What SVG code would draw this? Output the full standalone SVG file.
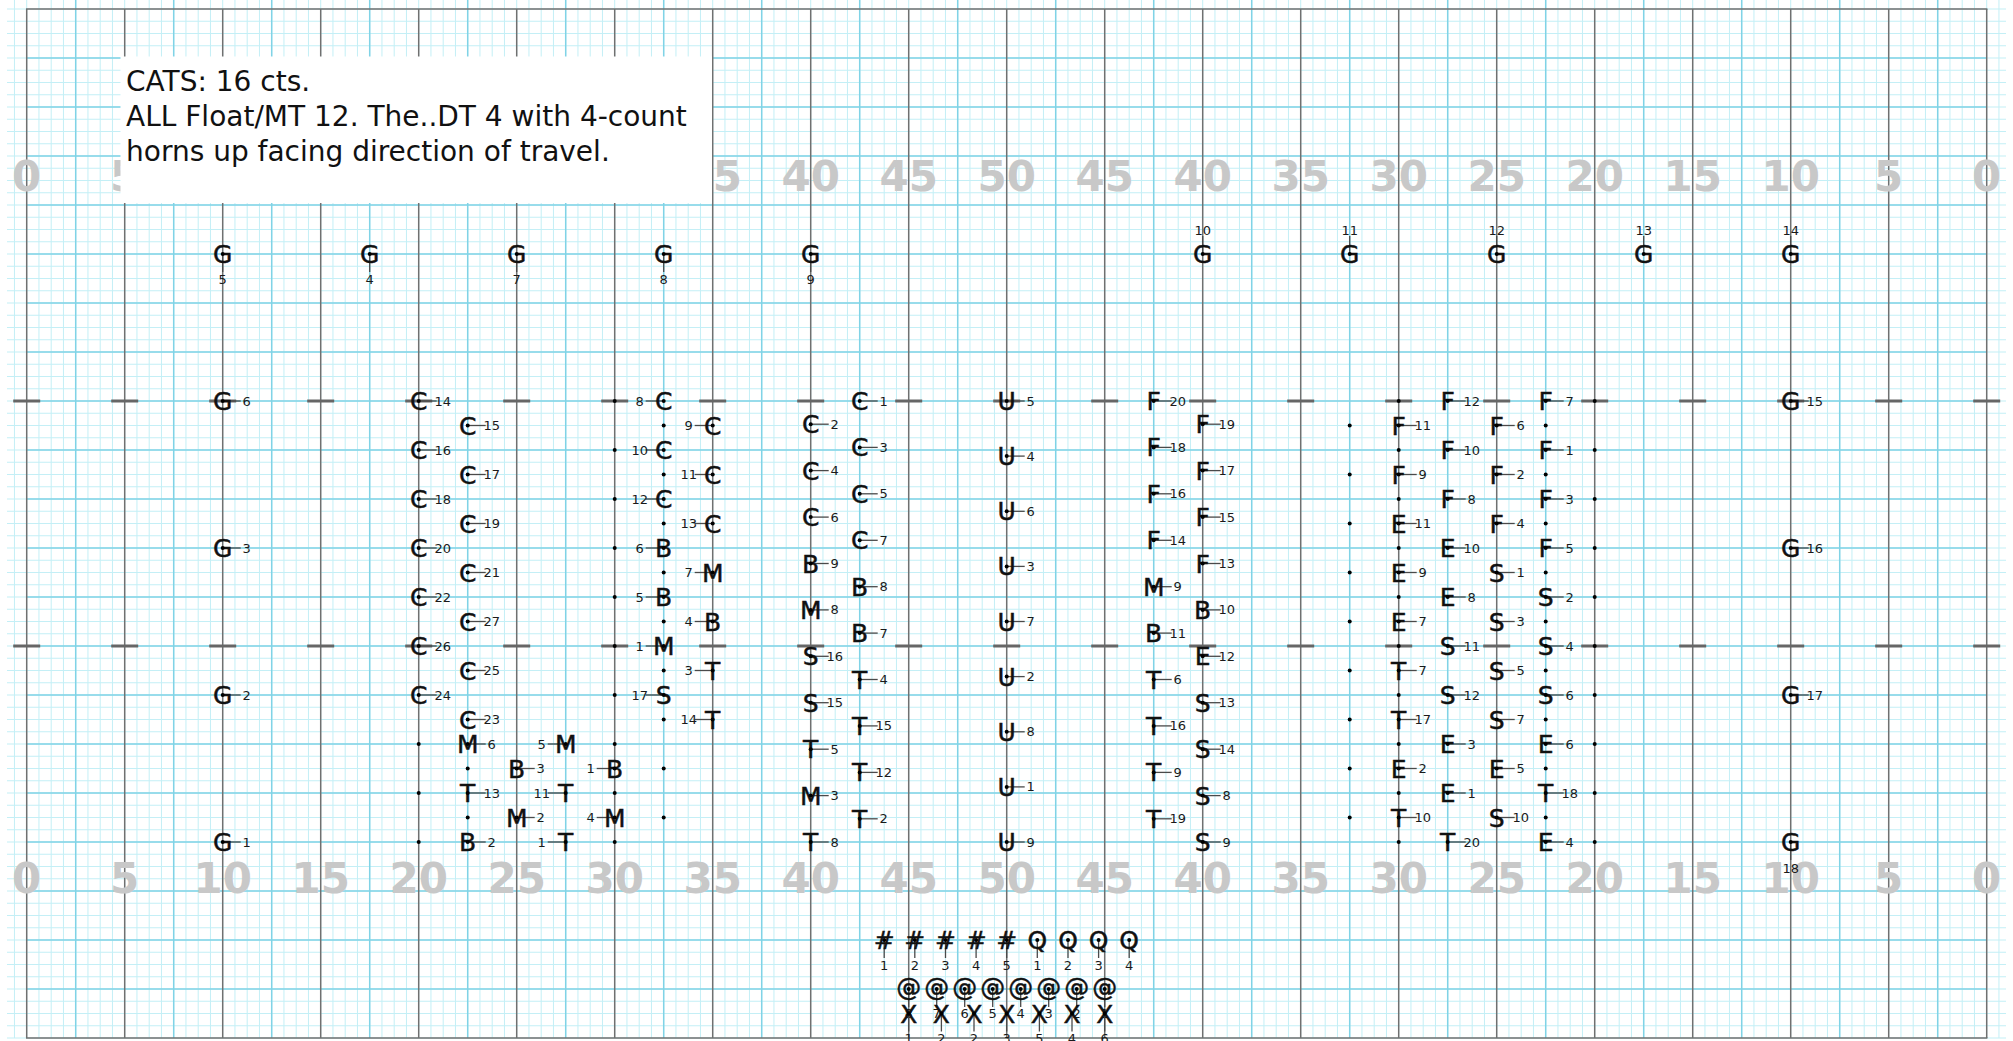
<svg xmlns="http://www.w3.org/2000/svg" xmlns:xlink="http://www.w3.org/1999/xlink" width="2013" height="1041" viewBox="0 0 2013 1041">
<style>
.s{font-family:"DejaVu Sans",sans-serif;font-size:25px;text-anchor:middle;fill:#111;stroke:#111;stroke-width:0.45}
.n{font-family:"DejaVu Sans",sans-serif;font-size:13px;text-anchor:middle;fill:#1a1a1a}
.l{stroke:#4a4a4a;stroke-width:1.3;fill:none}
.yn{font-family:"DejaVu Sans",sans-serif;font-weight:bold;font-size:42px;text-anchor:middle;fill:#c8c8c8}
.tb{font-family:"DejaVu Sans",sans-serif;font-size:28px;fill:#111}
</style>
<defs><circle id="d" r="2" fill="#000"/></defs>
<rect width="2013" height="1041" fill="#fff"/>
<g id="grid" fill="none">
<line x1="13.95" y1="519" x2="2006" y2="519" stroke="#c4eff6" stroke-width="1038" stroke-dasharray="1 11.25"/>
<line x1="1006.5" y1="8.5" x2="1006.5" y2="1039" stroke="#c4eff6" stroke-width="1999" stroke-dasharray="1 11.25"/>
<line x1="74.95" y1="519" x2="1990" y2="519" stroke="#80d3e6" stroke-width="1038" stroke-dasharray="1.5 96.5"/>
<line x1="1006.7" y1="57.25" x2="1006.7" y2="1000" stroke="#80d3e6" stroke-width="1960" stroke-dasharray="1.5 47.5"/>
<line x1="25.95" y1="523.5" x2="1990" y2="523.5" stroke="#707070" stroke-width="1029" stroke-dasharray="1.5 96.5"/>
<path d="M26 9H1987.4M26 1038H1987.4" stroke="#707070" stroke-width="1.5"/>
<line x1="13.2" y1="401" x2="2001" y2="401" stroke="#666" stroke-width="3" stroke-dasharray="27 71"/>
<line x1="13.2" y1="646" x2="2001" y2="646" stroke="#666" stroke-width="3" stroke-dasharray="27 71"/>
</g>
<g id="yard-numbers-top" class="yn">
<text x="26.7" y="190.5">0</text><text x="124.7" y="190.5">5</text><text x="222.7" y="190.5">10</text><text x="320.7" y="190.5">15</text><text x="418.7" y="190.5">20</text><text x="516.7" y="190.5">25</text><text x="614.7" y="190.5">30</text><text x="712.7" y="190.5">35</text><text x="810.7" y="190.5">40</text><text x="908.7" y="190.5">45</text><text x="1006.7" y="190.5">50</text><text x="1104.7" y="190.5">45</text><text x="1202.7" y="190.5">40</text><text x="1300.7" y="190.5">35</text><text x="1398.7" y="190.5">30</text><text x="1496.7" y="190.5">25</text><text x="1594.7" y="190.5">20</text><text x="1692.7" y="190.5">15</text><text x="1790.7" y="190.5">10</text><text x="1888.7" y="190.5">5</text><text x="1986.7" y="190.5">0</text>
</g>
<g id="yard-numbers-bottom" class="yn">
<text x="26.7" y="892.5">0</text><text x="124.7" y="892.5">5</text><text x="222.7" y="892.5">10</text><text x="320.7" y="892.5">15</text><text x="418.7" y="892.5">20</text><text x="516.7" y="892.5">25</text><text x="614.7" y="892.5">30</text><text x="712.7" y="892.5">35</text><text x="810.7" y="892.5">40</text><text x="908.7" y="892.5">45</text><text x="1006.7" y="892.5">50</text><text x="1104.7" y="892.5">45</text><text x="1202.7" y="892.5">40</text><text x="1300.7" y="892.5">35</text><text x="1398.7" y="892.5">30</text><text x="1496.7" y="892.5">25</text><text x="1594.7" y="892.5">20</text><text x="1692.7" y="892.5">15</text><text x="1790.7" y="892.5">10</text><text x="1888.7" y="892.5">5</text><text x="1986.7" y="892.5">0</text>
</g>
<g id="note">
<rect x="120.5" y="56.5" width="591.5" height="146.5" fill="#fff"/>
<text class="tb" x="126" y="91">CATS: 16 cts.</text>
<text class="tb" x="126" y="126">ALL Float/MT 12. The..DT 4 with 4-count</text>
<text class="tb" x="126" y="161">horns up facing direction of travel.</text>
</g>
<g id="markers">
<use href="#d" x="614.7" y="401"/><use href="#d" x="663.7" y="425.5"/><use href="#d" x="614.7" y="450"/><use href="#d" x="663.7" y="474.5"/><use href="#d" x="614.7" y="499"/><use href="#d" x="663.7" y="523.5"/><use href="#d" x="614.7" y="548"/><use href="#d" x="663.7" y="572.5"/><use href="#d" x="614.7" y="597"/><use href="#d" x="663.7" y="621.5"/><use href="#d" x="614.7" y="646"/><use href="#d" x="663.7" y="670.5"/><use href="#d" x="614.7" y="695"/><use href="#d" x="663.7" y="719.5"/>
<use href="#d" x="418.7" y="744"/><use href="#d" x="614.7" y="744"/><use href="#d" x="467.7" y="768.5"/><use href="#d" x="663.7" y="768.5"/><use href="#d" x="418.7" y="793"/><use href="#d" x="614.7" y="793"/><use href="#d" x="467.7" y="817.5"/><use href="#d" x="663.7" y="817.5"/><use href="#d" x="418.7" y="842"/><use href="#d" x="614.7" y="842"/>
<use href="#d" x="1349.7" y="425.5"/><use href="#d" x="1349.7" y="474.5"/><use href="#d" x="1349.7" y="523.5"/><use href="#d" x="1349.7" y="572.5"/><use href="#d" x="1349.7" y="621.5"/><use href="#d" x="1349.7" y="670.5"/><use href="#d" x="1349.7" y="719.5"/><use href="#d" x="1349.7" y="768.5"/><use href="#d" x="1349.7" y="817.5"/>
<use href="#d" x="1398.7" y="401"/><use href="#d" x="1398.7" y="450"/><use href="#d" x="1398.7" y="499"/><use href="#d" x="1398.7" y="548"/><use href="#d" x="1398.7" y="597"/><use href="#d" x="1398.7" y="646"/><use href="#d" x="1398.7" y="695"/><use href="#d" x="1398.7" y="744"/><use href="#d" x="1398.7" y="793"/><use href="#d" x="1398.7" y="842"/>
<use href="#d" x="1545.7" y="425.5"/><use href="#d" x="1545.7" y="474.5"/><use href="#d" x="1545.7" y="523.5"/><use href="#d" x="1545.7" y="572.5"/><use href="#d" x="1545.7" y="621.5"/><use href="#d" x="1545.7" y="670.5"/><use href="#d" x="1545.7" y="719.5"/><use href="#d" x="1545.7" y="768.5"/><use href="#d" x="1545.7" y="817.5"/>
<use href="#d" x="1594.7" y="401"/><use href="#d" x="1594.7" y="450"/><use href="#d" x="1594.7" y="499"/><use href="#d" x="1594.7" y="548"/><use href="#d" x="1594.7" y="597"/><use href="#d" x="1594.7" y="646"/><use href="#d" x="1594.7" y="695"/><use href="#d" x="1594.7" y="744"/><use href="#d" x="1594.7" y="793"/><use href="#d" x="1594.7" y="842"/>
</g>
<g id="nodes">
<g id="G5" transform="translate(222.7 254)"><path class="l" d="M0 0v18"/><text class="n" y="29.5">5</text><text class="s" y="9">G</text><use href="#d"/></g>
<g id="G4" transform="translate(369.7 254)"><path class="l" d="M0 0v18"/><text class="n" y="29.5">4</text><text class="s" y="9">G</text><use href="#d"/></g>
<g id="G7" transform="translate(516.7 254)"><path class="l" d="M0 0v18"/><text class="n" y="29.5">7</text><text class="s" y="9">G</text><use href="#d"/></g>
<g id="G8" transform="translate(663.7 254)"><path class="l" d="M0 0v18"/><text class="n" y="29.5">8</text><text class="s" y="9">G</text><use href="#d"/></g>
<g id="G9" transform="translate(810.7 254)"><path class="l" d="M0 0v18"/><text class="n" y="29.5">9</text><text class="s" y="9">G</text><use href="#d"/></g>
<g id="G10" transform="translate(1202.7 254)"><path class="l" d="M0 0v-18"/><text class="n" y="-19">10</text><text class="s" y="9">G</text><use href="#d"/></g>
<g id="G11" transform="translate(1349.7 254)"><path class="l" d="M0 0v-18"/><text class="n" y="-19">11</text><text class="s" y="9">G</text><use href="#d"/></g>
<g id="G12" transform="translate(1496.7 254)"><path class="l" d="M0 0v-18"/><text class="n" y="-19">12</text><text class="s" y="9">G</text><use href="#d"/></g>
<g id="G13" transform="translate(1643.7 254)"><path class="l" d="M0 0v-18"/><text class="n" y="-19">13</text><text class="s" y="9">G</text><use href="#d"/></g>
<g id="G14" transform="translate(1790.7 254)"><path class="l" d="M0 0v-18"/><text class="n" y="-19">14</text><text class="s" y="9">G</text><use href="#d"/></g>
<g id="G6" transform="translate(222.7 401)"><path class="l" d="M0 0h18"/><text class="n" x="24" y="4.5">6</text><text class="s" y="9">G</text><use href="#d"/></g>
<g id="G3" transform="translate(222.7 548)"><path class="l" d="M0 0h18"/><text class="n" x="24" y="4.5">3</text><text class="s" y="9">G</text><use href="#d"/></g>
<g id="G2" transform="translate(222.7 695)"><path class="l" d="M0 0h18"/><text class="n" x="24" y="4.5">2</text><text class="s" y="9">G</text><use href="#d"/></g>
<g id="G1" transform="translate(222.7 842)"><path class="l" d="M0 0h18"/><text class="n" x="24" y="4.5">1</text><text class="s" y="9">G</text><use href="#d"/></g>
<g id="G15" transform="translate(1790.7 401)"><path class="l" d="M0 0h18"/><text class="n" x="24" y="4.5">15</text><text class="s" y="9">G</text><use href="#d"/></g>
<g id="G16" transform="translate(1790.7 548)"><path class="l" d="M0 0h18"/><text class="n" x="24" y="4.5">16</text><text class="s" y="9">G</text><use href="#d"/></g>
<g id="G17" transform="translate(1790.7 695)"><path class="l" d="M0 0h18"/><text class="n" x="24" y="4.5">17</text><text class="s" y="9">G</text><use href="#d"/></g>
<g id="G18" transform="translate(1790.7 842)"><path class="l" d="M0 0v18"/><text class="n" y="31">18</text><text class="s" y="9">G</text><use href="#d"/></g>

<g id="C14" transform="translate(418.7 401)"><path class="l" d="M0 0h18"/><text class="n" x="24" y="4.5">14</text><text class="s" y="9">C</text><use href="#d"/></g>
<g id="C16" transform="translate(418.7 450)"><path class="l" d="M0 0h18"/><text class="n" x="24" y="4.5">16</text><text class="s" y="9">C</text><use href="#d"/></g>
<g id="C18" transform="translate(418.7 499)"><path class="l" d="M0 0h18"/><text class="n" x="24" y="4.5">18</text><text class="s" y="9">C</text><use href="#d"/></g>
<g id="C20" transform="translate(418.7 548)"><path class="l" d="M0 0h18"/><text class="n" x="24" y="4.5">20</text><text class="s" y="9">C</text><use href="#d"/></g>
<g id="C22" transform="translate(418.7 597)"><path class="l" d="M0 0h18"/><text class="n" x="24" y="4.5">22</text><text class="s" y="9">C</text><use href="#d"/></g>
<g id="C26" transform="translate(418.7 646)"><path class="l" d="M0 0h18"/><text class="n" x="24" y="4.5">26</text><text class="s" y="9">C</text><use href="#d"/></g>
<g id="C24" transform="translate(418.7 695)"><path class="l" d="M0 0h18"/><text class="n" x="24" y="4.5">24</text><text class="s" y="9">C</text><use href="#d"/></g>
<g id="C15" transform="translate(467.7 425.5)"><path class="l" d="M0 0h18"/><text class="n" x="24" y="4.5">15</text><text class="s" y="9">C</text><use href="#d"/></g>
<g id="C17" transform="translate(467.7 474.5)"><path class="l" d="M0 0h18"/><text class="n" x="24" y="4.5">17</text><text class="s" y="9">C</text><use href="#d"/></g>
<g id="C19" transform="translate(467.7 523.5)"><path class="l" d="M0 0h18"/><text class="n" x="24" y="4.5">19</text><text class="s" y="9">C</text><use href="#d"/></g>
<g id="C21" transform="translate(467.7 572.5)"><path class="l" d="M0 0h18"/><text class="n" x="24" y="4.5">21</text><text class="s" y="9">C</text><use href="#d"/></g>
<g id="C27" transform="translate(467.7 621.5)"><path class="l" d="M0 0h18"/><text class="n" x="24" y="4.5">27</text><text class="s" y="9">C</text><use href="#d"/></g>
<g id="C25" transform="translate(467.7 670.5)"><path class="l" d="M0 0h18"/><text class="n" x="24" y="4.5">25</text><text class="s" y="9">C</text><use href="#d"/></g>
<g id="C23" transform="translate(467.7 719.5)"><path class="l" d="M0 0h18"/><text class="n" x="24" y="4.5">23</text><text class="s" y="9">C</text><use href="#d"/></g>

<g id="M6" transform="translate(467.7 744)"><path class="l" d="M0 0h18"/><text class="n" x="24" y="4.5">6</text><text class="s" y="9">M</text><use href="#d"/></g>
<g id="M5" transform="translate(565.7 744)"><path class="l" d="M0 0h-18"/><text class="n" x="-24" y="4.5">5</text><text class="s" y="9">M</text><use href="#d"/></g>
<g id="B3" transform="translate(516.7 768.5)"><path class="l" d="M0 0h18"/><text class="n" x="24" y="4.5">3</text><text class="s" y="9">B</text><use href="#d"/></g>
<g id="B1" transform="translate(614.7 768.5)"><path class="l" d="M0 0h-18"/><text class="n" x="-24" y="4.5">1</text><text class="s" y="9">B</text><use href="#d"/></g>
<g id="T13" transform="translate(467.7 793)"><path class="l" d="M0 0h18"/><text class="n" x="24" y="4.5">13</text><text class="s" y="9">T</text><use href="#d"/></g>
<g id="T11" transform="translate(565.7 793)"><path class="l" d="M0 0h-18"/><text class="n" x="-24" y="4.5">11</text><text class="s" y="9">T</text><use href="#d"/></g>
<g id="M2" transform="translate(516.7 817.5)"><path class="l" d="M0 0h18"/><text class="n" x="24" y="4.5">2</text><text class="s" y="9">M</text><use href="#d"/></g>
<g id="M4" transform="translate(614.7 817.5)"><path class="l" d="M0 0h-18"/><text class="n" x="-24" y="4.5">4</text><text class="s" y="9">M</text><use href="#d"/></g>
<g id="B2" transform="translate(467.7 842)"><path class="l" d="M0 0h18"/><text class="n" x="24" y="4.5">2</text><text class="s" y="9">B</text><use href="#d"/></g>
<g id="T1" transform="translate(565.7 842)"><path class="l" d="M0 0h-18"/><text class="n" x="-24" y="4.5">1</text><text class="s" y="9">T</text><use href="#d"/></g>

<g id="C8" transform="translate(663.7 401)"><path class="l" d="M0 0h-18"/><text class="n" x="-24" y="4.5">8</text><text class="s" y="9">C</text><use href="#d"/></g>
<g id="C9" transform="translate(712.7 425.5)"><path class="l" d="M0 0h-18"/><text class="n" x="-24" y="4.5">9</text><text class="s" y="9">C</text><use href="#d"/></g>
<g id="C10" transform="translate(663.7 450)"><path class="l" d="M0 0h-18"/><text class="n" x="-24" y="4.5">10</text><text class="s" y="9">C</text><use href="#d"/></g>
<g id="C11" transform="translate(712.7 474.5)"><path class="l" d="M0 0h-18"/><text class="n" x="-24" y="4.5">11</text><text class="s" y="9">C</text><use href="#d"/></g>
<g id="C12" transform="translate(663.7 499)"><path class="l" d="M0 0h-18"/><text class="n" x="-24" y="4.5">12</text><text class="s" y="9">C</text><use href="#d"/></g>
<g id="C13" transform="translate(712.7 523.5)"><path class="l" d="M0 0h-18"/><text class="n" x="-24" y="4.5">13</text><text class="s" y="9">C</text><use href="#d"/></g>
<g id="B6" transform="translate(663.7 548)"><path class="l" d="M0 0h-18"/><text class="n" x="-24" y="4.5">6</text><text class="s" y="9">B</text><use href="#d"/></g>
<g id="M7" transform="translate(712.7 572.5)"><path class="l" d="M0 0h-18"/><text class="n" x="-24" y="4.5">7</text><text class="s" y="9">M</text><use href="#d"/></g>
<g id="B5" transform="translate(663.7 597)"><path class="l" d="M0 0h-18"/><text class="n" x="-24" y="4.5">5</text><text class="s" y="9">B</text><use href="#d"/></g>
<g id="B4" transform="translate(712.7 621.5)"><path class="l" d="M0 0h-18"/><text class="n" x="-24" y="4.5">4</text><text class="s" y="9">B</text><use href="#d"/></g>
<g id="M1" transform="translate(663.7 646)"><path class="l" d="M0 0h-18"/><text class="n" x="-24" y="4.5">1</text><text class="s" y="9">M</text><use href="#d"/></g>
<g id="T3" transform="translate(712.7 670.5)"><path class="l" d="M0 0h-18"/><text class="n" x="-24" y="4.5">3</text><text class="s" y="9">T</text><use href="#d"/></g>
<g id="S17" transform="translate(663.7 695)"><path class="l" d="M0 0h-18"/><text class="n" x="-24" y="4.5">17</text><text class="s" y="9">S</text><use href="#d"/></g>
<g id="T14" transform="translate(712.7 719.5)"><path class="l" d="M0 0h-18"/><text class="n" x="-24" y="4.5">14</text><text class="s" y="9">T</text><use href="#d"/></g>

<g id="C1" transform="translate(859.7 401)"><path class="l" d="M0 0h18"/><text class="n" x="24" y="4.5">1</text><text class="s" y="9">C</text><use href="#d"/></g>
<g id="C2" transform="translate(810.7 424.2)"><path class="l" d="M0 0h18"/><text class="n" x="24" y="4.5">2</text><text class="s" y="9">C</text><use href="#d"/></g>
<g id="C3" transform="translate(859.7 447.4)"><path class="l" d="M0 0h18"/><text class="n" x="24" y="4.5">3</text><text class="s" y="9">C</text><use href="#d"/></g>
<g id="C4" transform="translate(810.7 470.6)"><path class="l" d="M0 0h18"/><text class="n" x="24" y="4.5">4</text><text class="s" y="9">C</text><use href="#d"/></g>
<g id="C5" transform="translate(859.7 493.8)"><path class="l" d="M0 0h18"/><text class="n" x="24" y="4.5">5</text><text class="s" y="9">C</text><use href="#d"/></g>
<g id="C6" transform="translate(810.7 517.1)"><path class="l" d="M0 0h18"/><text class="n" x="24" y="4.5">6</text><text class="s" y="9">C</text><use href="#d"/></g>
<g id="C7" transform="translate(859.7 540.3)"><path class="l" d="M0 0h18"/><text class="n" x="24" y="4.5">7</text><text class="s" y="9">C</text><use href="#d"/></g>
<g id="B9" transform="translate(810.7 563.5)"><path class="l" d="M0 0h18"/><text class="n" x="24" y="4.5">9</text><text class="s" y="9">B</text><use href="#d"/></g>
<g id="B8" transform="translate(859.7 586.7)"><path class="l" d="M0 0h18"/><text class="n" x="24" y="4.5">8</text><text class="s" y="9">B</text><use href="#d"/></g>
<g id="M8" transform="translate(810.7 609.9)"><path class="l" d="M0 0h18"/><text class="n" x="24" y="4.5">8</text><text class="s" y="9">M</text><use href="#d"/></g>
<g id="B7" transform="translate(859.7 633.1)"><path class="l" d="M0 0h18"/><text class="n" x="24" y="4.5">7</text><text class="s" y="9">B</text><use href="#d"/></g>
<g id="S16" transform="translate(810.7 656.3)"><path class="l" d="M0 0h18"/><text class="n" x="24" y="4.5">16</text><text class="s" y="9">S</text><use href="#d"/></g>
<g id="T4" transform="translate(859.7 679.5)"><path class="l" d="M0 0h18"/><text class="n" x="24" y="4.5">4</text><text class="s" y="9">T</text><use href="#d"/></g>
<g id="S15" transform="translate(810.7 702.7)"><path class="l" d="M0 0h18"/><text class="n" x="24" y="4.5">15</text><text class="s" y="9">S</text><use href="#d"/></g>
<g id="T15" transform="translate(859.7 725.9)"><path class="l" d="M0 0h18"/><text class="n" x="24" y="4.5">15</text><text class="s" y="9">T</text><use href="#d"/></g>
<g id="T5" transform="translate(810.7 749.2)"><path class="l" d="M0 0h18"/><text class="n" x="24" y="4.5">5</text><text class="s" y="9">T</text><use href="#d"/></g>
<g id="T12" transform="translate(859.7 772.4)"><path class="l" d="M0 0h18"/><text class="n" x="24" y="4.5">12</text><text class="s" y="9">T</text><use href="#d"/></g>
<g id="M3" transform="translate(810.7 795.6)"><path class="l" d="M0 0h18"/><text class="n" x="24" y="4.5">3</text><text class="s" y="9">M</text><use href="#d"/></g>
<g id="T2" transform="translate(859.7 818.8)"><path class="l" d="M0 0h18"/><text class="n" x="24" y="4.5">2</text><text class="s" y="9">T</text><use href="#d"/></g>
<g id="T8" transform="translate(810.7 842)"><path class="l" d="M0 0h18"/><text class="n" x="24" y="4.5">8</text><text class="s" y="9">T</text><use href="#d"/></g>

<g id="U5" transform="translate(1006.7 401)"><path class="l" d="M0 0h18"/><text class="n" x="24" y="4.5">5</text><text class="s" y="9">U</text><use href="#d"/></g>
<g id="U4" transform="translate(1006.7 456.1)"><path class="l" d="M0 0h18"/><text class="n" x="24" y="4.5">4</text><text class="s" y="9">U</text><use href="#d"/></g>
<g id="U6" transform="translate(1006.7 511.3)"><path class="l" d="M0 0h18"/><text class="n" x="24" y="4.5">6</text><text class="s" y="9">U</text><use href="#d"/></g>
<g id="U3" transform="translate(1006.7 566.4)"><path class="l" d="M0 0h18"/><text class="n" x="24" y="4.5">3</text><text class="s" y="9">U</text><use href="#d"/></g>
<g id="U7" transform="translate(1006.7 621.5)"><path class="l" d="M0 0h18"/><text class="n" x="24" y="4.5">7</text><text class="s" y="9">U</text><use href="#d"/></g>
<g id="U2" transform="translate(1006.7 676.6)"><path class="l" d="M0 0h18"/><text class="n" x="24" y="4.5">2</text><text class="s" y="9">U</text><use href="#d"/></g>
<g id="U8" transform="translate(1006.7 731.8)"><path class="l" d="M0 0h18"/><text class="n" x="24" y="4.5">8</text><text class="s" y="9">U</text><use href="#d"/></g>
<g id="U1" transform="translate(1006.7 786.9)"><path class="l" d="M0 0h18"/><text class="n" x="24" y="4.5">1</text><text class="s" y="9">U</text><use href="#d"/></g>
<g id="U9" transform="translate(1006.7 842)"><path class="l" d="M0 0h18"/><text class="n" x="24" y="4.5">9</text><text class="s" y="9">U</text><use href="#d"/></g>

<g id="F20" transform="translate(1153.7 401)"><path class="l" d="M0 0h18"/><text class="n" x="24" y="4.5">20</text><text class="s" y="9">F</text><use href="#d"/></g>
<g id="F19" transform="translate(1202.7 424.2)"><path class="l" d="M0 0h18"/><text class="n" x="24" y="4.5">19</text><text class="s" y="9">F</text><use href="#d"/></g>
<g id="F18" transform="translate(1153.7 447.4)"><path class="l" d="M0 0h18"/><text class="n" x="24" y="4.5">18</text><text class="s" y="9">F</text><use href="#d"/></g>
<g id="F17" transform="translate(1202.7 470.6)"><path class="l" d="M0 0h18"/><text class="n" x="24" y="4.5">17</text><text class="s" y="9">F</text><use href="#d"/></g>
<g id="F16" transform="translate(1153.7 493.8)"><path class="l" d="M0 0h18"/><text class="n" x="24" y="4.5">16</text><text class="s" y="9">F</text><use href="#d"/></g>
<g id="F15" transform="translate(1202.7 517.1)"><path class="l" d="M0 0h18"/><text class="n" x="24" y="4.5">15</text><text class="s" y="9">F</text><use href="#d"/></g>
<g id="F14" transform="translate(1153.7 540.3)"><path class="l" d="M0 0h18"/><text class="n" x="24" y="4.5">14</text><text class="s" y="9">F</text><use href="#d"/></g>
<g id="F13" transform="translate(1202.7 563.5)"><path class="l" d="M0 0h18"/><text class="n" x="24" y="4.5">13</text><text class="s" y="9">F</text><use href="#d"/></g>
<g id="M9" transform="translate(1153.7 586.7)"><path class="l" d="M0 0h18"/><text class="n" x="24" y="4.5">9</text><text class="s" y="9">M</text><use href="#d"/></g>
<g id="B10" transform="translate(1202.7 609.9)"><path class="l" d="M0 0h18"/><text class="n" x="24" y="4.5">10</text><text class="s" y="9">B</text><use href="#d"/></g>
<g id="B11" transform="translate(1153.7 633.1)"><path class="l" d="M0 0h18"/><text class="n" x="24" y="4.5">11</text><text class="s" y="9">B</text><use href="#d"/></g>
<g id="E12" transform="translate(1202.7 656.3)"><path class="l" d="M0 0h18"/><text class="n" x="24" y="4.5">12</text><text class="s" y="9">E</text><use href="#d"/></g>
<g id="T6" transform="translate(1153.7 679.5)"><path class="l" d="M0 0h18"/><text class="n" x="24" y="4.5">6</text><text class="s" y="9">T</text><use href="#d"/></g>
<g id="S13" transform="translate(1202.7 702.7)"><path class="l" d="M0 0h18"/><text class="n" x="24" y="4.5">13</text><text class="s" y="9">S</text><use href="#d"/></g>
<g id="T16" transform="translate(1153.7 725.9)"><path class="l" d="M0 0h18"/><text class="n" x="24" y="4.5">16</text><text class="s" y="9">T</text><use href="#d"/></g>
<g id="S14" transform="translate(1202.7 749.2)"><path class="l" d="M0 0h18"/><text class="n" x="24" y="4.5">14</text><text class="s" y="9">S</text><use href="#d"/></g>
<g id="T9" transform="translate(1153.7 772.4)"><path class="l" d="M0 0h18"/><text class="n" x="24" y="4.5">9</text><text class="s" y="9">T</text><use href="#d"/></g>
<g id="S8" transform="translate(1202.7 795.6)"><path class="l" d="M0 0h18"/><text class="n" x="24" y="4.5">8</text><text class="s" y="9">S</text><use href="#d"/></g>
<g id="T19" transform="translate(1153.7 818.8)"><path class="l" d="M0 0h18"/><text class="n" x="24" y="4.5">19</text><text class="s" y="9">T</text><use href="#d"/></g>
<g id="S9" transform="translate(1202.7 842)"><path class="l" d="M0 0h18"/><text class="n" x="24" y="4.5">9</text><text class="s" y="9">S</text><use href="#d"/></g>

<g id="F11" transform="translate(1398.7 425.5)"><path class="l" d="M0 0h18"/><text class="n" x="24" y="4.5">11</text><text class="s" y="9">F</text><use href="#d"/></g>
<g id="F9" transform="translate(1398.7 474.5)"><path class="l" d="M0 0h18"/><text class="n" x="24" y="4.5">9</text><text class="s" y="9">F</text><use href="#d"/></g>
<g id="E11" transform="translate(1398.7 523.5)"><path class="l" d="M0 0h18"/><text class="n" x="24" y="4.5">11</text><text class="s" y="9">E</text><use href="#d"/></g>
<g id="E9" transform="translate(1398.7 572.5)"><path class="l" d="M0 0h18"/><text class="n" x="24" y="4.5">9</text><text class="s" y="9">E</text><use href="#d"/></g>
<g id="E7" transform="translate(1398.7 621.5)"><path class="l" d="M0 0h18"/><text class="n" x="24" y="4.5">7</text><text class="s" y="9">E</text><use href="#d"/></g>
<g id="T7" transform="translate(1398.7 670.5)"><path class="l" d="M0 0h18"/><text class="n" x="24" y="4.5">7</text><text class="s" y="9">T</text><use href="#d"/></g>
<g id="T17" transform="translate(1398.7 719.5)"><path class="l" d="M0 0h18"/><text class="n" x="24" y="4.5">17</text><text class="s" y="9">T</text><use href="#d"/></g>
<g id="E2" transform="translate(1398.7 768.5)"><path class="l" d="M0 0h18"/><text class="n" x="24" y="4.5">2</text><text class="s" y="9">E</text><use href="#d"/></g>
<g id="T10" transform="translate(1398.7 817.5)"><path class="l" d="M0 0h18"/><text class="n" x="24" y="4.5">10</text><text class="s" y="9">T</text><use href="#d"/></g>

<g id="F12" transform="translate(1447.7 401)"><path class="l" d="M0 0h18"/><text class="n" x="24" y="4.5">12</text><text class="s" y="9">F</text><use href="#d"/></g>
<g id="F10" transform="translate(1447.7 450)"><path class="l" d="M0 0h18"/><text class="n" x="24" y="4.5">10</text><text class="s" y="9">F</text><use href="#d"/></g>
<g id="F8" transform="translate(1447.7 499)"><path class="l" d="M0 0h18"/><text class="n" x="24" y="4.5">8</text><text class="s" y="9">F</text><use href="#d"/></g>
<g id="E10" transform="translate(1447.7 548)"><path class="l" d="M0 0h18"/><text class="n" x="24" y="4.5">10</text><text class="s" y="9">E</text><use href="#d"/></g>
<g id="E8" transform="translate(1447.7 597)"><path class="l" d="M0 0h18"/><text class="n" x="24" y="4.5">8</text><text class="s" y="9">E</text><use href="#d"/></g>
<g id="S11" transform="translate(1447.7 646)"><path class="l" d="M0 0h18"/><text class="n" x="24" y="4.5">11</text><text class="s" y="9">S</text><use href="#d"/></g>
<g id="S12" transform="translate(1447.7 695)"><path class="l" d="M0 0h18"/><text class="n" x="24" y="4.5">12</text><text class="s" y="9">S</text><use href="#d"/></g>
<g id="E3" transform="translate(1447.7 744)"><path class="l" d="M0 0h18"/><text class="n" x="24" y="4.5">3</text><text class="s" y="9">E</text><use href="#d"/></g>
<g id="E1" transform="translate(1447.7 793)"><path class="l" d="M0 0h18"/><text class="n" x="24" y="4.5">1</text><text class="s" y="9">E</text><use href="#d"/></g>
<g id="T20" transform="translate(1447.7 842)"><path class="l" d="M0 0h18"/><text class="n" x="24" y="4.5">20</text><text class="s" y="9">T</text><use href="#d"/></g>

<g id="F6" transform="translate(1496.7 425.5)"><path class="l" d="M0 0h18"/><text class="n" x="24" y="4.5">6</text><text class="s" y="9">F</text><use href="#d"/></g>
<g id="F2" transform="translate(1496.7 474.5)"><path class="l" d="M0 0h18"/><text class="n" x="24" y="4.5">2</text><text class="s" y="9">F</text><use href="#d"/></g>
<g id="F4" transform="translate(1496.7 523.5)"><path class="l" d="M0 0h18"/><text class="n" x="24" y="4.5">4</text><text class="s" y="9">F</text><use href="#d"/></g>
<g id="S1" transform="translate(1496.7 572.5)"><path class="l" d="M0 0h18"/><text class="n" x="24" y="4.5">1</text><text class="s" y="9">S</text><use href="#d"/></g>
<g id="S3" transform="translate(1496.7 621.5)"><path class="l" d="M0 0h18"/><text class="n" x="24" y="4.5">3</text><text class="s" y="9">S</text><use href="#d"/></g>
<g id="S5" transform="translate(1496.7 670.5)"><path class="l" d="M0 0h18"/><text class="n" x="24" y="4.5">5</text><text class="s" y="9">S</text><use href="#d"/></g>
<g id="S7" transform="translate(1496.7 719.5)"><path class="l" d="M0 0h18"/><text class="n" x="24" y="4.5">7</text><text class="s" y="9">S</text><use href="#d"/></g>
<g id="E5" transform="translate(1496.7 768.5)"><path class="l" d="M0 0h18"/><text class="n" x="24" y="4.5">5</text><text class="s" y="9">E</text><use href="#d"/></g>
<g id="S10" transform="translate(1496.7 817.5)"><path class="l" d="M0 0h18"/><text class="n" x="24" y="4.5">10</text><text class="s" y="9">S</text><use href="#d"/></g>

<g id="F7" transform="translate(1545.7 401)"><path class="l" d="M0 0h18"/><text class="n" x="24" y="4.5">7</text><text class="s" y="9">F</text><use href="#d"/></g>
<g id="F1" transform="translate(1545.7 450)"><path class="l" d="M0 0h18"/><text class="n" x="24" y="4.5">1</text><text class="s" y="9">F</text><use href="#d"/></g>
<g id="F3" transform="translate(1545.7 499)"><path class="l" d="M0 0h18"/><text class="n" x="24" y="4.5">3</text><text class="s" y="9">F</text><use href="#d"/></g>
<g id="F5" transform="translate(1545.7 548)"><path class="l" d="M0 0h18"/><text class="n" x="24" y="4.5">5</text><text class="s" y="9">F</text><use href="#d"/></g>
<g id="S2" transform="translate(1545.7 597)"><path class="l" d="M0 0h18"/><text class="n" x="24" y="4.5">2</text><text class="s" y="9">S</text><use href="#d"/></g>
<g id="S4" transform="translate(1545.7 646)"><path class="l" d="M0 0h18"/><text class="n" x="24" y="4.5">4</text><text class="s" y="9">S</text><use href="#d"/></g>
<g id="S6" transform="translate(1545.7 695)"><path class="l" d="M0 0h18"/><text class="n" x="24" y="4.5">6</text><text class="s" y="9">S</text><use href="#d"/></g>
<g id="E6" transform="translate(1545.7 744)"><path class="l" d="M0 0h18"/><text class="n" x="24" y="4.5">6</text><text class="s" y="9">E</text><use href="#d"/></g>
<g id="T18" transform="translate(1545.7 793)"><path class="l" d="M0 0h18"/><text class="n" x="24" y="4.5">18</text><text class="s" y="9">T</text><use href="#d"/></g>
<g id="E4" transform="translate(1545.7 842)"><path class="l" d="M0 0h18"/><text class="n" x="24" y="4.5">4</text><text class="s" y="9">E</text><use href="#d"/></g>

<g id="H1" transform="translate(884.2 940)"><path class="l" d="M0 0v18"/><text class="n" y="29.5">1</text><text class="s" y="9">#</text><use href="#d"/></g>
<g id="H2" transform="translate(914.8 940)"><path class="l" d="M0 0v18"/><text class="n" y="29.5">2</text><text class="s" y="9">#</text><use href="#d"/></g>
<g id="H3" transform="translate(945.5 940)"><path class="l" d="M0 0v18"/><text class="n" y="29.5">3</text><text class="s" y="9">#</text><use href="#d"/></g>
<g id="H4" transform="translate(976.1 940)"><path class="l" d="M0 0v18"/><text class="n" y="29.5">4</text><text class="s" y="9">#</text><use href="#d"/></g>
<g id="H5" transform="translate(1006.7 940)"><path class="l" d="M0 0v18"/><text class="n" y="29.5">5</text><text class="s" y="9">#</text><use href="#d"/></g>
<g id="Q1" transform="translate(1037.3 940)"><path class="l" d="M0 0v18"/><text class="n" y="29.5">1</text><text class="s" y="9">Q</text><use href="#d"/></g>
<g id="Q2" transform="translate(1068 940)"><path class="l" d="M0 0v18"/><text class="n" y="29.5">2</text><text class="s" y="9">Q</text><use href="#d"/></g>
<g id="Q3" transform="translate(1098.6 940)"><path class="l" d="M0 0v18"/><text class="n" y="29.5">3</text><text class="s" y="9">Q</text><use href="#d"/></g>
<g id="Q4" transform="translate(1129.2 940)"><path class="l" d="M0 0v18"/><text class="n" y="29.5">4</text><text class="s" y="9">Q</text><use href="#d"/></g>

<g id="A8" transform="translate(908.7 989)"><path class="l" d="M0 0v18"/><text class="n" y="29">8</text><text class="s" y="7">@</text><use href="#d"/></g>
<g id="A7" transform="translate(936.7 989)"><path class="l" d="M0 0v18"/><text class="n" y="29">7</text><text class="s" y="7">@</text><use href="#d"/></g>
<g id="A6" transform="translate(964.7 989)"><path class="l" d="M0 0v18"/><text class="n" y="29">6</text><text class="s" y="7">@</text><use href="#d"/></g>
<g id="A5" transform="translate(992.7 989)"><path class="l" d="M0 0v18"/><text class="n" y="29">5</text><text class="s" y="7">@</text><use href="#d"/></g>
<g id="A4" transform="translate(1020.7 989)"><path class="l" d="M0 0v18"/><text class="n" y="29">4</text><text class="s" y="7">@</text><use href="#d"/></g>
<g id="A3" transform="translate(1048.7 989)"><path class="l" d="M0 0v18"/><text class="n" y="29">3</text><text class="s" y="7">@</text><use href="#d"/></g>
<g id="A2" transform="translate(1076.7 989)"><path class="l" d="M0 0v18"/><text class="n" y="29">2</text><text class="s" y="7">@</text><use href="#d"/></g>
<g id="A1" transform="translate(1104.7 989)"><path class="l" d="M0 0v18"/><text class="n" y="29">1</text><text class="s" y="7">@</text><use href="#d"/></g>

<g id="X1" transform="translate(908.7 1013.5)"><path class="l" d="M0 0v18"/><text class="n" y="29">1</text><text class="s" y="9">X</text><use href="#d"/></g>
<g id="X2" transform="translate(941.4 1013.5)"><path class="l" d="M0 0v18"/><text class="n" y="29">2</text><text class="s" y="9">X</text><use href="#d"/></g>
<g id="X3" transform="translate(974 1013.5)"><path class="l" d="M0 0v18"/><text class="n" y="29">2</text><text class="s" y="9">X</text><use href="#d"/></g>
<g id="X4" transform="translate(1006.7 1013.5)"><path class="l" d="M0 0v18"/><text class="n" y="29">3</text><text class="s" y="9">X</text><use href="#d"/></g>
<g id="X5" transform="translate(1039.4 1013.5)"><path class="l" d="M0 0v18"/><text class="n" y="29">5</text><text class="s" y="9">X</text><use href="#d"/></g>
<g id="X6" transform="translate(1072 1013.5)"><path class="l" d="M0 0v18"/><text class="n" y="29">4</text><text class="s" y="9">X</text><use href="#d"/></g>
<g id="X7" transform="translate(1104.7 1013.5)"><path class="l" d="M0 0v18"/><text class="n" y="29">6</text><text class="s" y="9">X</text><use href="#d"/></g>
</g>
</svg>
